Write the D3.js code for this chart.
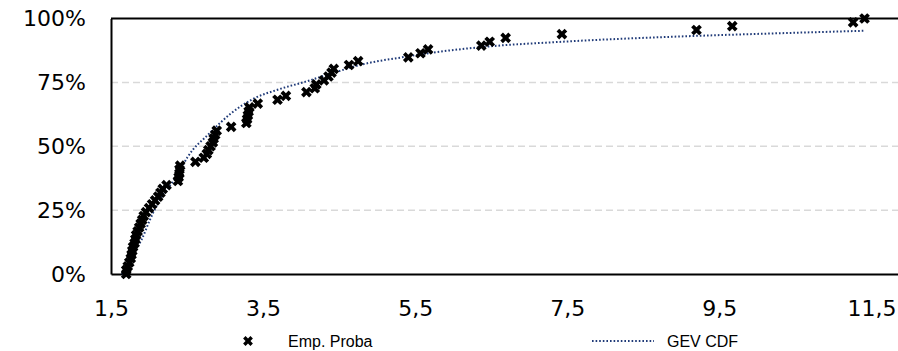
<!DOCTYPE html>
<html>
<head>
<meta charset="utf-8">
<script src="https://cdn.jsdelivr.net/npm/d3@7"></script>
<style>
  body { margin: 0; background: #fff; }
  .axis-label { font-family: "DejaVu Sans", Verdana, sans-serif; font-size: 22px; fill: #000; }
  .legend-label { font-family: "Liberation Sans", Arial, sans-serif; font-size: 16px; fill: #000; }
</style>
</head>
<body>
<svg id="chart"></svg>
<script>
// Empirical points (value, probability in %)
const empX = [1.70, 1.70, 1.72, 1.74, 1.76, 1.77, 1.78, 1.79, 1.81, 1.82, 1.83, 1.85, 1.87, 1.89, 1.91,
  1.93, 1.96, 2.00, 2.04, 2.08, 2.12, 2.15, 2.18, 2.23, 2.38, 2.39, 2.40, 2.40, 2.41, 2.61, 2.72,
  2.76, 2.78, 2.81, 2.84, 2.85, 2.87, 2.89, 3.08, 3.28, 3.29, 3.30, 3.31, 3.32, 3.43, 3.69, 3.80,
  4.07, 4.18, 4.20, 4.30, 4.36, 4.40, 4.43, 4.63, 4.75, 5.41, 5.57, 5.67, 6.37, 6.48, 6.69, 7.43,
  9.20, 9.67, 11.26, 11.41];
const empP = [0, 1.5, 3.0, 4.5, 6.1, 7.6, 9.1, 10.6, 12.1, 13.6, 15.2, 16.7, 18.2, 19.7, 21.2,
  22.7, 24.2, 25.8, 27.3, 28.8, 30.3, 31.8, 33.3, 34.8, 36.4, 37.9, 39.4, 40.9, 42.4, 43.9, 45.5,
  47.0, 48.5, 50.0, 51.5, 53.0, 54.5, 56.1, 57.6, 59.1, 60.6, 62.1, 63.6, 65.2, 66.7, 68.2, 69.7,
  71.2, 72.7, 74.2, 75.8, 77.3, 78.8, 80.3, 81.8, 83.3, 84.8, 86.4, 87.9, 89.4, 90.9, 92.4, 93.9,
  95.5, 97.0, 98.5, 100];

// GEV CDF curve
const gevX = [1.64, 1.68, 1.71, 1.79, 1.90, 2.01, 2.14, 2.36, 2.51, 2.80, 3.08, 3.36, 3.71, 4.06,
  4.41, 4.80, 5.37, 5.72, 6.37, 7.43, 9.20, 10.26, 11.41];
const gevP = [0, 1.2, 2.9, 8.1, 13.3, 21.1, 29.0, 38.1, 45.9, 55.2, 62.9, 68.4, 72.3, 75.3,
  78.6, 82.0, 85.0, 86.6, 88.8, 90.9, 93.2, 94.2, 95.2];

const xTicks = [1.5, 3.5, 5.5, 7.5, 9.5, 11.5];
const yTicks = [0, 25, 50, 75, 100];
const seriesNames = ['Emp. Proba', 'GEV CDF'];

const width = 898, height = 351;
const margin = {top: 18.5, right: 0, bottom: 77, left: 111};

const svg = d3.select('#chart')
    .attr('width', width)
    .attr('height', height);

// x-range chosen so that 1,5 sits on the left axis and 11,5 near the right edge
const xScale = d3.scaleLinear()
    .domain([1.5, 11.85])
    .range([margin.left, width - margin.right]);

const yScale = d3.scaleLinear()
    .domain([0, 100])
    .range([height - margin.bottom, margin.top]);

const fmt = d => String(d).replace('.', ',');

// Gridlines (dashed), top line solid
svg.append('g')
    .selectAll('line')
    .data(yTicks.filter(d => d > 0 && d < 100))
    .join('line')
    .attr('x1', xScale.range()[0])
    .attr('x2', xScale.range()[1])
    .attr('y1', d => yScale(d))
    .attr('y2', d => yScale(d))
    .attr('stroke', '#d9d9d9')
    .attr('stroke-width', 1.5)
    .attr('stroke-dasharray', '7 4');

svg.append('line')
    .attr('x1', xScale.range()[0])
    .attr('x2', xScale.range()[1])
    .attr('y1', yScale(100))
    .attr('y2', yScale(100))
    .attr('stroke', '#000')
    .attr('stroke-width', 2);

// Axes
const xAxis = d3.axisBottom(xScale)
    .tickValues(xTicks)
    .tickFormat(fmt)
    .tickSize(0)
    .tickPadding(26)
    .tickSizeOuter(0);

const yAxis = d3.axisLeft(yScale)
    .tickValues(yTicks)
    .tickFormat(d => d + '%')
    .tickSize(0)
    .tickPadding(25)
    .tickSizeOuter(0);

const xAxisG = svg.append('g')
    .attr('transform', `translate(0,${yScale(0)})`)
    .call(xAxis);

const yAxisG = svg.append('g')
    .attr('transform', `translate(${xScale(1.5)},0)`)
    .call(yAxis);

[xAxisG, yAxisG].forEach(g => {
  g.attr('font-size', null).attr('font-family', null);
  g.select('.domain').attr('stroke', '#000').attr('stroke-width', 2);
  g.selectAll('text').attr('class', 'axis-label');
});

// GEV CDF curve
const gevData = gevX.map((x, i) => ({x: x, p: gevP[i]}));
const line = d3.line()
    .x(d => xScale(d.x))
    .y(d => yScale(d.p))
    .curve(d3.curveMonotoneX);

svg.append('path')
    .datum(gevData)
    .attr('d', line)
    .attr('fill', 'none')
    .attr('stroke', '#1f3a78')
    .attr('stroke-width', 2)
    .attr('stroke-dasharray', '1.6 2');

// Empirical points
const empData = empX.map((x, i) => ({x: x, p: empP[i]}));
const marker = d3.symbol().type(d3.symbolCross).size(72);

svg.append('g')
    .selectAll('path')
    .data(empData)
    .join('path')
    .attr('d', marker)
    .attr('transform', d => `translate(${xScale(d.x)},${yScale(d.p)}) rotate(45)`)
    .attr('fill', '#000');

// Legend
const legendY = 341;
svg.append('path')
    .attr('d', d3.symbol().type(d3.symbolCross).size(60))
    .attr('transform', `translate(248,${legendY}) rotate(45)`)
    .attr('fill', '#000');
svg.append('text')
    .attr('class', 'legend-label')
    .attr('x', 288)
    .attr('y', legendY + 5.5)
    .text(seriesNames[0]);

svg.append('line')
    .attr('x1', 592)
    .attr('x2', 654)
    .attr('y1', legendY)
    .attr('y2', legendY)
    .attr('stroke', '#1f3a78')
    .attr('stroke-width', 2)
    .attr('stroke-dasharray', '1.6 2');
svg.append('text')
    .attr('class', 'legend-label')
    .attr('x', 667)
    .attr('y', legendY + 5.5)
    .text(seriesNames[1]);
</script>
</body>
</html>
